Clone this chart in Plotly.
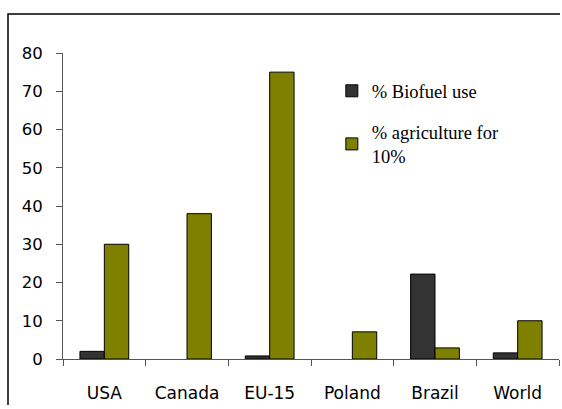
import plotly.graph_objects as go

categories = ["USA", "Canada", "EU-15", "Poland", "Brazil", "World"]
biofuel_use = [2.0, 0.0, 0.8, 0.0, 22.2, 1.6]
agri_for_10 = [30.0, 38.0, 75.0, 7.1, 2.9, 10.0]
series_names = ["% Biofuel use", "% agriculture for<br>10%"]
y_ticks = [0, 10, 20, 30, 40, 50, 60, 70, 80]


def outline_widths(values):
    return [1 if v > 0 else 0 for v in values]


fig = go.Figure()
fig.add_trace(go.Bar(x=categories, y=biofuel_use, name=series_names[0],
                     marker=dict(color="#333333",
                                 line=dict(color="#000000", width=outline_widths(biofuel_use))),
                     legendgroup="a"))
fig.add_trace(go.Bar(x=categories, y=agri_for_10, name=series_names[1],
                     marker=dict(color="#808000",
                                 line=dict(color="#000000", width=outline_widths(agri_for_10))),
                     legendgroup="b"))

fig.update_layout(
    width=562, height=409,
    margin=dict(l=63, r=3, t=53, b=50),
    paper_bgcolor="white", plot_bgcolor="white",
    barmode="group", bargap=0.41, bargroupgap=0,
    font=dict(family="DejaVu Sans", size=17, color="#000000"),
    legend=dict(x=0.542, y=0.937, xanchor="left", yanchor="top",
                font=dict(family="Liberation Serif", size=18.5, color="#000000"),
                tracegroupgap=14, bgcolor="rgba(0,0,0,0)"),
    showlegend=True,
)
fig.update_xaxes(showline=True, linecolor="#555555", linewidth=1,
                 ticks="outside", tickson="boundaries", ticklen=6, tickcolor="#555555",
                 showgrid=False, tickfont=dict(size=17), ticklabelstandoff=19)
fig.update_yaxes(range=[0, 80], tickvals=y_ticks, showline=True, linecolor="#555555",
                 linewidth=1, ticks="outside", ticklen=6, tickcolor="#555555",
                 showgrid=False, zeroline=False, tickfont=dict(size=16.5),
                 ticklabelstandoff=10)

# outer frame: only the top and left edges are visible; one open path
fl = -55 / 496
ft = 1 + 39 / 306.6
fr = 1 + 1 / 496
fb = -46 / 306.6
fig.add_shape(type="path", xref="paper", yref="paper",
              path=f"M {fl},{fb} L {fl},{ft} L {fr},{ft}",
              line=dict(color="#000000", width=1.5), fillcolor="rgba(0,0,0,0)",
              layer="above")

fig.write_html("out.html")
